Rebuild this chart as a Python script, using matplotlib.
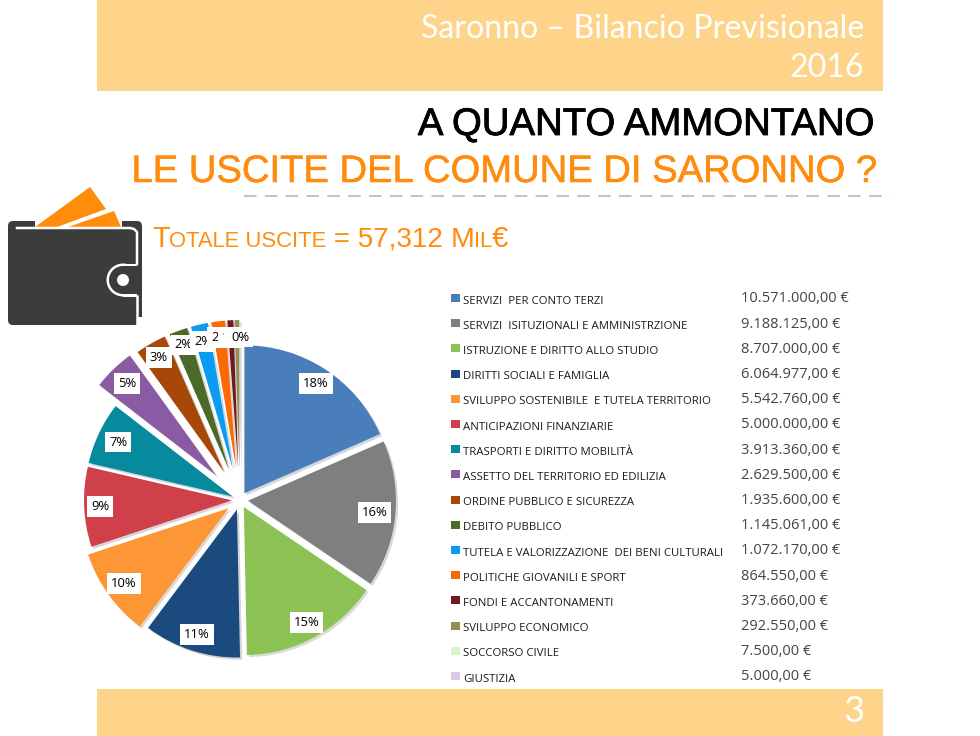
import matplotlib
matplotlib.use("Agg")
import matplotlib.pyplot as plt
import matplotlib.patheffects as pe
from matplotlib.patches import Rectangle, Polygon, FancyBboxPatch, Circle
import math

# chart data
categories = ["SERVIZI  PER CONTO TERZI", "SERVIZI  ISITUZIONALI E AMMINISTRZIONE",
              "ISTRUZIONE E DIRITTO ALLO STUDIO", "DIRITTI SOCIALI E FAMIGLIA",
              "SVILUPPO SOSTENIBILE  E TUTELA TERRITORIO", "ANTICIPAZIONI FINANZIARIE",
              "TRASPORTI E DIRITTO MOBILITÀ", "ASSETTO DEL TERRITORIO ED EDILIZIA",
              "ORDINE PUBBLICO E SICUREZZA", "DEBITO PUBBLICO",
              "TUTELA E VALORIZZAZIONE  DEI BENI CULTURALI", "POLITICHE GIOVANILI E SPORT",
              "FONDI E ACCANTONAMENTI", "SVILUPPO ECONOMICO", "SOCCORSO CIVILE", "GIUSTIZIA"]
values = [10571000, 9188125, 8707000, 6064977, 5542760, 5000000, 3913360, 2629500,
          1935600, 1145061, 1072170, 864550, 373660, 292550, 7500, 5000]
colors = ["#4a7ebb", "#7f7f7f", "#8cc153", "#1b4a7f", "#fd9635", "#d0404a", "#078a9e", "#8a5ba5",
          "#a84808", "#4b6a29", "#0a9cf0", "#f96a05", "#6d1a22", "#958f55", "#d6f5c8", "#dcc8e8"]

# how far each slice is pulled out, and where its label sits (pixels)
explode = [8, 8, 8, 10, 14, 8, 8, 34, 32, 32, 32, 32, 32, 32, 32, 32]
label_r = [139, 135, 139, 141, 143, 140, 135, 162, 164, 165, 163, 164, 163, 163, 163, 163]

ORANGE = "#ff8c0f"
BAR = "#fdd48a"
DARK = "#3c3c3c"
SANS = "Liberation Sans"
LEG = "Open Sans"


def euro(v):
    return f"{v:,.2f}".replace(",", "#").replace(".", ",").replace("#", ".") + " €"


def Y(y):
    return 736 - y


fig = plt.figure(figsize=(9.8, 7.36), dpi=100)
ax = fig.add_axes([0, 0, 1, 1])

# pie
cx, cy = 240, Y(500)
wedges, _, pct = ax.pie(values, colors=colors, explode=explode, startangle=90, counterclock=False,
                        radius=148, center=(cx, cy), autopct="%.0f%%", frame=True,
                        wedgeprops={"lw": 0}, textprops={"fontsize": 9.4, "family": "Open Sans", "color": "black"})
ax.set_xlim(0, 980)
ax.set_ylim(0, 736)
ax.axis("off")
ax.set_aspect("auto")
for w, t, r in zip(wedges, pct, label_r):
    a = math.radians((w.theta1 + w.theta2) / 2)
    t.set_position((cx + r * math.cos(a), cy + r * math.sin(a)))
    t.set_bbox(dict(fc="white", ec="none", pad=2.8))
    t.set_zorder(5)
    w.set_path_effects([pe.SimplePatchShadow(offset=(1.5, -1.5), alpha=0.18), pe.Normal()])

# header and footer bands
ax.add_patch(Rectangle((97, Y(91)), 786, 91, color=BAR, lw=0))
ax.add_patch(Rectangle((97, 0), 786, 47, color=BAR, lw=0))
ax.text(864, Y(29), "Saronno – Bilancio Previsionale", color="white", fontsize=23.1,
        family="Lato", ha="right", va="center")
ax.text(864, Y(68), "2016", color="white", fontsize=23.1, family="Lato", ha="right", va="center")
ax.text(864, Y(711), "3", color="white", fontsize=26, family="Lato", ha="right", va="center")

# titles
t1 = ax.text(875, Y(135), "A QUANTO AMMONTANO", color="black", fontsize=27.6, family=SANS,
             ha="right", va="baseline")
t2 = ax.text(878, Y(182), "LE USCITE DEL COMUNE DI SARONNO ?", color=ORANGE, fontsize=27.5, family=SANS,
             ha="right", va="baseline")
t1.set_path_effects([pe.withStroke(linewidth=0.6, foreground="black")])
t2.set_path_effects([pe.withStroke(linewidth=0.4, foreground=ORANGE)])
ax.plot([244, 890], [Y(196), Y(196)], color="#c4c4c4", lw=1.5, dashes=(6, 4))

# "Totale uscite" line, small caps made of separate pieces
fig.canvas.draw()
rend = fig.canvas.get_renderer()
x = 152
for txt, size in [("T", 21), ("OTALE USCITE", 15.8), (" = 57,312 ", 20), ("M", 20.5), ("IL", 15.8), ("€", 21)]:
    t = ax.text(x, Y(247), txt, color=ORANGE, fontsize=size, family=SANS, va="baseline")
    x += t.get_window_extent(rend).width - 0.4

# wallet icon
ax.add_patch(FancyBboxPatch((12, Y(321)), 126, 96, boxstyle="round,pad=4,rounding_size=5", fc=DARK, ec="none"))
ax.add_patch(Rectangle((35, Y(229)), 87, 10, fc="white", ec="none"))
ax.plot([17, 130, 134, 137, 137], [Y(228), Y(228), Y(229), Y(232), Y(264)], color="white", lw=1.8)
ax.add_patch(Rectangle((137, Y(328)), 8, 11, fc="white", ec="none"))
ax.plot([137, 137], [Y(296), Y(328)], color="white", lw=1.8)
ax.add_patch(Circle((123, Y(280)), 16.5, fc="white", ec="none"))
ax.add_patch(Rectangle((123, Y(296.5)), 14, 33, fc="white", ec="none"))
ax.add_patch(Circle((123, Y(280)), 14, fc=DARK, ec="none"))
ax.add_patch(Rectangle((123, Y(294)), 19, 28, fc=DARK, ec="none"))
ax.add_patch(Circle((123, Y(280)), 6, fc="white", ec="none"))
ax.add_patch(Polygon([(35, Y(227)), (90, Y(187)), (106, Y(209)), (57, Y(227))], color="#ff8c0a", lw=0))
ax.add_patch(Polygon([(68, Y(227)), (114, Y(211)), (121, Y(227))], color="#ff8c0a", lw=0))

# legend table
for i, (name, v, c) in enumerate(zip(categories, values, colors)):
    yrow = 301 + i * 25.2
    ax.add_patch(Rectangle((451, Y(yrow + 1)), 9, 8, color=c, lw=0))
    ax.text(463, Y(yrow), name, fontsize=8.2, family=LEG, color="#1a1a1a", va="center")
    ax.text(741, Y(yrow - 2), euro(v), fontsize=10.5, family=LEG, color="#444444", va="center")

fig.savefig("out.png", dpi=100)
